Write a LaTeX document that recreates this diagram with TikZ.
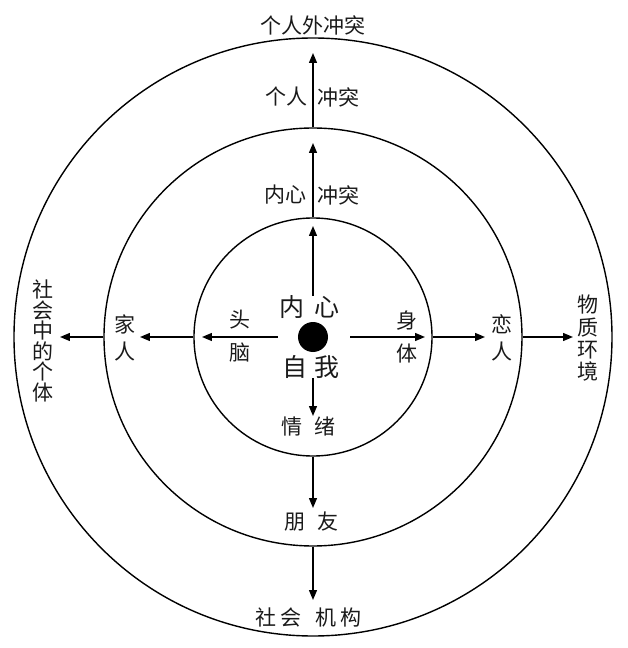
\documentclass[tikz,border=0pt]{standalone}
\usepackage{fontspec}
\newfontfamily\cjk{Noto Sans CJK SC}
\usepackage{tikz}
\usetikzlibrary{arrows.meta,positioning}
\definecolor{ink}{HTML}{1A1A1A}
\tikzset{
  ring/.style={circle,draw=black,line width=1.4pt,inner sep=0pt},
  arr/.style={-{Triangle[length=10pt,width=8pt]},line width=1.4pt,draw=black},
  lbl/.style={font=\cjk\fontsize{21}{21}\selectfont,text=ink,inner sep=0pt,align=center},
  vert/.style={lbl,font=\cjk\fontsize{21}{#1}\selectfont},
  big/.style={font=\cjk\fontsize{25}{25}\selectfont,text=ink,inner sep=0pt}
}

\begin{document}
\begin{tikzpicture}[x=1pt,y=1pt]
 \useasboundingbox (-313,-311) rectangle (315,337);
 \node[ring,minimum size=238pt] (self) at (0,0) {};
 \node[ring,minimum size=418pt] (near) at (0,0) {};
 \node[ring,minimum size=598pt] (world) at (0,0) {};
 \node[circle,fill=black,minimum size=30pt,inner sep=0pt] (dot) at (0,0) {};
 \coordinate (tU1) at (0,111); \coordinate (tU2) at (0,194); \coordinate (tU3) at (0,284);
 \coordinate (tD1) at (0,-79); \coordinate (tD2) at (0,-171); \coordinate (tD3) at (0,-263);
 \coordinate (tL1) at (-111,0); \coordinate (tL2) at (-173,0); \coordinate (tL3) at (-253,0);
 \coordinate (tR1) at (112,0); \coordinate (tR2) at (172,0); \coordinate (tR3) at (260,0);
 \draw[arr,shorten <=26pt] (dot) -- (tU1); \draw[arr] (self.north) -- (tU2); \draw[arr] (near.north) -- (tU3);
 \draw[arr,shorten <=26pt] (dot) -- (tD1); \draw[arr] (self.south) -- (tD2); \draw[arr] (near.south) -- (tD3);
 \draw[arr,shorten <=20pt] (dot) -- (tL1); \draw[arr] (self.west) -- (tL2); \draw[arr] (near.west) -- (tL3);
 \draw[arr,shorten <=22pt] (dot) -- (tR1); \draw[arr] (self.east) -- (tR2); \draw[arr] (near.east) -- (tR3);
 \node[lbl] (outer) at (0,312) {个人外冲突};
 \node[lbl] (pers) at (-26,240) {个人};
 \node[lbl] (persc) at (26,240) {冲突};
 \node[lbl] (inner) at (-27,142) {内心};
 \node[lbl] (innerc) at (26,142) {冲突};
 \node[big] (heart) at (-3,30) {内\hspace{10pt}心};
 \node[big] (ego) at (-2,-30) {自\hspace{7pt}我};
 \node[vert=33] (head) at (-73,0.5) {头\\脑};
 \node[vert=33] (body) at (94,0.5) {身\\体};
 \node[vert=27] (family) at (-188,-1) {家\\人};
 \node[vert=27] (lover) at (189,-1) {恋\\人};
 \node[vert=20.5] (society) at (-270,-4) {社\\会\\中\\的\\个\\体};
 \node[vert=22.3] (matter) at (275,-1.5) {物\\质\\环\\境};
 \node[lbl] (emotion) at (-4.5,-90) {情\hspace{12pt}绪};
 \node[lbl] (friend) at (-1.5,-185) {朋\hspace{12pt}友};
 \node[lbl] (inst) at (-4,-280) {社\hspace{4pt}会\hspace{14pt}机\hspace{4pt}构};
\end{tikzpicture}
\end{document}
